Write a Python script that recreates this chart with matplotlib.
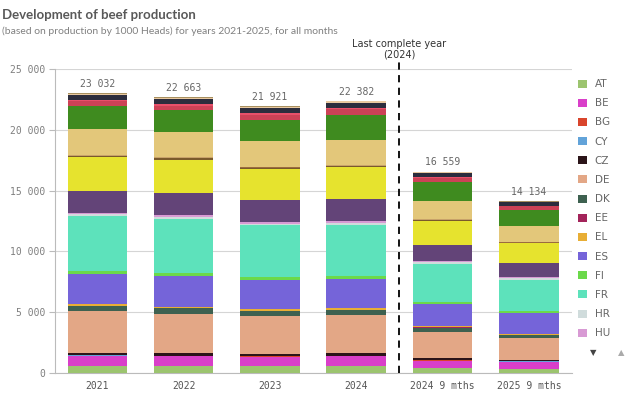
import matplotlib
matplotlib.use("Agg")
import matplotlib.pyplot as plt
import numpy as np

# bars (x categories)
periods = ["2021", "2022", "2023", "2024", "2024 9 mths", "2025 9 mths"]

countries = ["AT", "BE", "BG", "CY", "CZ", "DE", "DK", "EE", "EL", "ES", "FI", "FR", "HR", "HU",
             "IE", "IT", "LT", "LU", "LV", "MT", "NL", "PL", "PT", "RO", "SE", "SI", "SK"]

colors = ["#9cc46f", "#d93fc9", "#d9452c", "#62a3d9", "#2b1419", "#e3a786", "#3e6150", "#a3245a",
          "#e8ae35", "#7564d9", "#6bd94a", "#5de2bb", "#d0dcdc", "#d89ad4", "#634478", "#e6e32e",
          "#7a5a2b", "#9b6b3f", "#c8a26a", "#888888", "#e3c77a", "#3f8b1f", "#cc4256", "#e8506a",
          "#2c2d3d", "#e9c9a0", "#a89060"]

# production in 1000 heads, one list per bar, same order as countries
v2021 = [560, 830, 30, 20, 240, 3380, 450, 35, 110, 2450, 260, 4527, 180, 110,
         1800, 2750, 100, 25, 70, 5, 2150, 1850, 410, 120, 410, 110, 50]
v2022 = [560, 800, 30, 20, 230, 3250, 420, 35, 100, 2500, 250, 4478, 170, 110,
         1850, 2750, 95, 25, 65, 5, 2100, 1750, 400, 110, 400, 110, 50]
v2023 = [550, 780, 30, 20, 220, 3100, 400, 35, 100, 2400, 240, 4256, 160, 110,
         1850, 2550, 90, 25, 60, 5, 2100, 1750, 420, 100, 410, 110, 50]
v2024 = [560, 800, 30, 20, 220, 3150, 400, 35, 100, 2450, 230, 4207, 160, 110,
         1850, 2600, 90, 25, 60, 5, 2050, 2100, 450, 100, 420, 110, 50]
v2024_9m = [420, 600, 25, 15, 170, 2180, 330, 25, 75, 1820, 180, 3150, 120, 80,
            1350, 1950, 70, 20, 45, 4, 1550, 1550, 330, 80, 300, 80, 40]
v2025_9m = [350, 560, 22, 14, 160, 1759, 270, 22, 70, 1700, 160, 2600, 100, 70,
            1150, 1650, 60, 18, 40, 4, 1320, 1300, 300, 70, 260, 70, 35]

data = np.array([v2021, v2022, v2023, v2024, v2024_9m, v2025_9m]).T
totals = data.sum(axis=0)

grey = "#7f7f7f"
mono = "DejaVu Sans Mono"

fig = plt.figure(figsize=(6.42, 3.96), dpi=100)
ax = fig.add_axes([55/642, 23/396, 517/642, 304/396])

x = np.arange(len(periods))
bottom = np.zeros(len(periods))
bars = []
for i, c in enumerate(countries):
    b = ax.bar(x, data[i], 0.69, bottom=bottom, color=colors[i], linewidth=0, label=c, zorder=3)
    bars.append(b)
    bottom += data[i]

for xi, t in zip(x, totals):
    ax.text(xi, t + 350, f"{t:,}".replace(",", " "), ha="center", va="bottom",
            fontsize=7, color="#666666", family=mono)

ax.set_xlim(-0.49, 5.5)
ax.set_ylim(0, 25000)
ax.set_yticks(np.arange(0, 25001, 5000))
ax.set_yticklabels([f"{v:,}".replace(",", " ") for v in range(0, 25001, 5000)],
                   family=mono, fontsize=7, color=grey)
ax.set_xticks(x)
ax.set_xticklabels(periods, family=mono, fontsize=7, color="#555555")
ax.tick_params(axis="x", length=0, pad=6)
ax.tick_params(axis="y", length=4, color="#bbbbbb", pad=3)
ax.grid(axis="y", color="#d5d5d5", linewidth=0.8, zorder=0)
for s in ["top", "right"]:
    ax.spines[s].set_visible(False)
for s in ["left", "bottom"]:
    ax.spines[s].set_color("#bbbbbb")
    ax.spines[s].set_linewidth(0.8)

# reference line
ax.plot([3.5, 3.5], [0, 25600], color="black", linestyle=(0, (4, 3)), linewidth=1.3,
        clip_on=False, zorder=4)
ax.text(3.5, 25750, "Last complete year\n(2024)", ha="center", va="bottom", fontsize=7,
        color="#333333", linespacing=1.1)

fig.text(0.003, 0.962, "Development of beef production", fontsize=9.5, fontweight="bold",
         color="#595959", family="Lato", va="center")
fig.text(0.003, 0.922, "(based on production by 1000 Heads) for years 2021-2025, for all months",
         fontsize=7.5, color="#808080", family="Lato", va="center")

leg = fig.legend([b[0] for b in bars[:14]], countries[:14], loc="upper left",
                 bbox_to_anchor=(574/642, 1 - 75/396), frameon=False, fontsize=7.5,
                 handlelength=0.8, handleheight=0.8, handletextpad=0.8, labelspacing=0.88,
                 borderaxespad=0)
for t in leg.get_texts():
    t.set_color("#666666")

fig.text(593/642, 1 - 353/396, "\u25bc", fontsize=6, color="#444444", ha="center", va="center")
fig.text(621/642, 1 - 353/396, "\u25b2", fontsize=6, color="#aaaaaa", ha="center", va="center")

fig.savefig("out.png", dpi=100)
